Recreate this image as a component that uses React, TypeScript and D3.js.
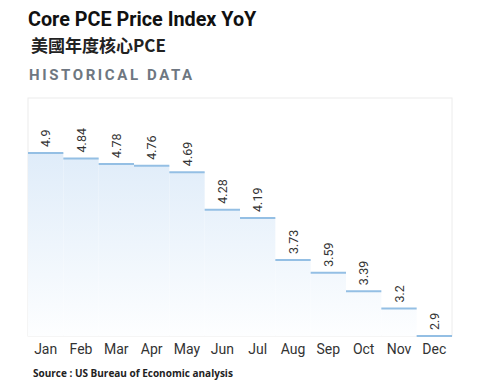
import * as d3 from 'd3';
import React, { useEffect, useRef } from 'react';

const months = ['Jan', 'Feb', 'Mar', 'Apr', 'May', 'Jun', 'Jul', 'Aug', 'Sep', 'Oct', 'Nov', 'Dec'];
const values = [4.9, 4.84, 4.78, 4.76, 4.69, 4.28, 4.19, 3.73, 3.59, 3.39, 3.2, 2.9];
const valueLabels = ['4.9', '4.84', '4.78', '4.76', '4.69', '4.28', '4.19', '3.73', '3.59', '3.39', '3.2', '2.9'];

const App = () => {
	const svgRef = useRef<SVGSVGElement | null>(null);

	useEffect(() => {
		const width = 485;
		const height = 389;
		const margin = { top: 98, right: 33, bottom: 53, left: 28 };
		const innerW = width - margin.left - margin.right;
		const innerH = height - margin.top - margin.bottom;

		const svg = d3.select(svgRef.current);
		svg.selectAll('*').remove();

		// vertical fade, shared by all steps
		const defs = svg.append('defs');
		const grad = defs.append('linearGradient')
			.attr('id', 'areaGrad')
			.attr('gradientUnits', 'userSpaceOnUse')
			.attr('x1', 0).attr('x2', 0)
			.attr('y1', margin.top + 54)
			.attr('y2', margin.top + innerH);
		grad.append('stop').attr('offset', '0%').attr('stop-color', '#dfecf9');
		grad.append('stop').attr('offset', '100%').attr('stop-color', '#fdfeff');

		svg.append('text')
			.attr('x', 28).attr('y', 26)
			.text('Core PCE Price Index YoY')
			.style('font-family', 'Roboto, sans-serif')
			.style('font-size', '19.8px')
			.style('font-weight', 'bold')
			.style('fill', '#111');

		svg.append('text')
			.attr('x', 31).attr('y', 52)
			.text('美國年度核心PCE')
			.style('font-family', '"Noto Sans CJK TC", sans-serif')
			.style('font-size', '17px')
			.style('font-weight', 'bold')
			.style('fill', '#222');

		svg.append('text')
			.attr('x', 29).attr('y', 80)
			.text('HISTORICAL DATA')
			.style('font-family', 'Roboto, sans-serif')
			.style('font-size', '15px')
			.style('font-weight', 'bold')
			.style('letter-spacing', '2.6px')
			.style('fill', '#6e7781');

		const g = svg.append('g').attr('transform', `translate(${margin.left},${margin.top})`);

		const x = d3.scaleBand().domain(months).range([0, innerW]).padding(0);
		const y = d3.scaleLinear().domain([2.9, 5.5]).range([innerH, 0]);

		g.append('rect')
			.attr('x', 0).attr('y', 0)
			.attr('width', innerW).attr('height', innerH)
			.style('fill', 'none')
			.style('stroke', '#ececec')
			.style('stroke-width', 1);

		const data = months.map((m, i) => ({ m, v: values[i], label: valueLabels[i] }));

		g.selectAll('.bar')
			.data(data)
			.enter()
			.append('rect')
			.attr('class', 'bar')
			.attr('x', d => x(d.m)!)
			.attr('y', d => y(d.v))
			.attr('width', x.bandwidth())
			.attr('height', d => innerH - y(d.v))
			.attr('transform', `translate(0,${-margin.top})`)
			.attr('y', d => y(d.v) + margin.top)
			.style('fill', 'url(#areaGrad)');

		g.selectAll('.step')
			.data(data)
			.enter()
			.append('line')
			.attr('class', 'step')
			.attr('x1', d => x(d.m)!)
			.attr('x2', d => x(d.m)! + x.bandwidth())
			.attr('y1', d => y(d.v))
			.attr('y2', d => y(d.v))
			.style('stroke', '#94bfe4')
			.style('stroke-width', 2);

		g.selectAll('.val')
			.data(data)
			.enter()
			.append('text')
			.attr('class', 'val')
			.attr('transform', d => `translate(${x(d.m)! + x.bandwidth() / 2 + 4.5}, ${y(d.v) - 6}) rotate(-90)`)
			.attr('text-anchor', 'start')
			.text(d => d.label)
			.style('font-family', 'Roboto, sans-serif')
			.style('font-size', '12.5px')
			.style('fill', '#333');

		g.selectAll('.month')
			.data(months)
			.enter()
			.append('text')
			.attr('class', 'month')
			.attr('x', d => x(d)! + x.bandwidth() / 2)
			.attr('y', innerH + 18)
			.attr('text-anchor', 'middle')
			.text(d => d)
			.style('font-family', 'Roboto, sans-serif')
			.style('font-size', '14px')
			.style('fill', '#333');

		svg.append('text')
			.attr('x', 33).attr('y', 377)
			.text('Source : US Bureau of Economic analysis')
			.style('font-family', '"Open Sans", sans-serif')
			.style('font-size', '10px')
			.style('font-weight', 'bold')
			.style('fill', '#222');
	}, []);

	return (
		<svg
			ref={svgRef}
			width={485}
			height={389}
			style={{ position: 'absolute', left: 0, top: 0, background: '#fff' }}
		/>
	);
};

export default App;
